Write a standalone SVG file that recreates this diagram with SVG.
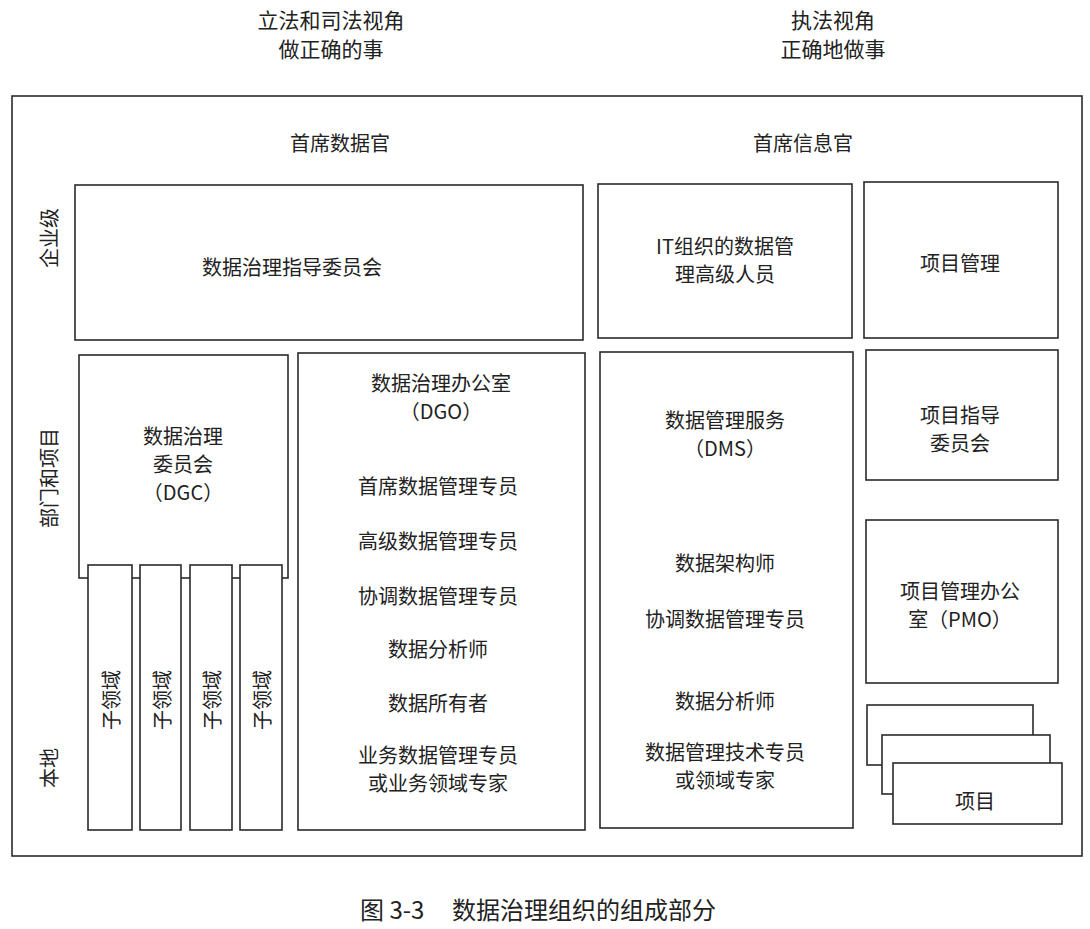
<svg xmlns="http://www.w3.org/2000/svg" width="1090" height="929" viewBox="0 0 1090 929">
<style>
.b{fill:#fff;stroke:#2a2a2a;stroke-width:1.6}
.t{font-family:"Noto Sans CJK SC","Noto Sans",sans-serif;font-size:20px;fill:#222;text-anchor:middle;dominant-baseline:central}
.h{font-size:21px}
.c{font-size:24px}
</style>
<rect width="1090" height="929" fill="#fff"/>
<g id="headers">
<text class="t h" x="331" y="19">立法和司法视角</text>
<text class="t h" x="331" y="48">做正确的事</text>
<text class="t h" x="833" y="19">执法视角</text>
<text class="t h" x="833" y="48">正确地做事</text>
</g>
<g id="outer"><rect class="b" x="12" y="96" width="1070" height="760"/></g>
<g id="roles">
<text class="t" x="340" y="142">首席数据官</text>
<text class="t" x="803" y="142">首席信息官</text>
</g>
<g id="levels">
<text class="t" transform="translate(48,238) rotate(-90)">企业级</text>
<text class="t" transform="translate(48,478) rotate(-90)">部门和项目</text>
<text class="t" transform="translate(48,768) rotate(-90)">本地</text>
</g>
<g id="steering">
<rect class="b" x="75" y="185" width="508" height="155"/>
<text class="t" x="292" y="266">数据治理指导委员会</text>
</g>
<g id="it-senior">
<rect class="b" x="598" y="184" width="254" height="154"/>
<text class="t" x="725" y="245">IT组织的数据管</text>
<text class="t" x="725" y="273">理高级人员</text>
</g>
<g id="pm">
<rect class="b" x="864" y="182" width="194" height="156"/>
<text class="t" x="960" y="262">项目管理</text>
</g>
<g id="dgc">
<rect class="b" x="79" y="355" width="209" height="223"/>
<text class="t" x="183" y="435">数据治理</text>
<text class="t" x="183" y="463">委员会</text>
<text class="t" x="183" y="491">（DGC）</text>
</g>
<g id="subdomains">
<rect class="b" x="88" y="565" width="44" height="265"/>
<rect class="b" x="140" y="565" width="41" height="265"/>
<rect class="b" x="190" y="565" width="42" height="265"/>
<rect class="b" x="240" y="565" width="42" height="265"/>
<text class="t" transform="translate(110,700) rotate(-90)">子领域</text>
<text class="t" transform="translate(161,700) rotate(-90)">子领域</text>
<text class="t" transform="translate(211,700) rotate(-90)">子领域</text>
<text class="t" transform="translate(261,700) rotate(-90)">子领域</text>
</g>
<g id="dgo">
<rect class="b" x="298" y="353" width="287" height="477"/>
<text class="t" x="441" y="382">数据治理办公室</text>
<text class="t" x="441" y="410">（DGO）</text>
<text class="t" x="438" y="485">首席数据管理专员</text>
<text class="t" x="438" y="540">高级数据管理专员</text>
<text class="t" x="438" y="595">协调数据管理专员</text>
<text class="t" x="438" y="648">数据分析师</text>
<text class="t" x="438" y="702">数据所有者</text>
<text class="t" x="438" y="754">业务数据管理专员</text>
<text class="t" x="438" y="782">或业务领域专家</text>
</g>
<g id="dms">
<rect class="b" x="600" y="352" width="253" height="476"/>
<text class="t" x="725" y="419">数据管理服务</text>
<text class="t" x="725" y="447">（DMS）</text>
<text class="t" x="725" y="562">数据架构师</text>
<text class="t" x="725" y="618">协调数据管理专员</text>
<text class="t" x="725" y="700">数据分析师</text>
<text class="t" x="725" y="751">数据管理技术专员</text>
<text class="t" x="725" y="779">或领域专家</text>
</g>
<g id="psc">
<rect class="b" x="866" y="350" width="192" height="130"/>
<text class="t" x="960" y="414">项目指导</text>
<text class="t" x="960" y="442">委员会</text>
</g>
<g id="pmo">
<rect class="b" x="866" y="520" width="192" height="163"/>
<text class="t" x="960" y="590">项目管理办公</text>
<text class="t" x="960" y="618">室（PMO）</text>
</g>
<g id="projects">
<rect class="b" x="867" y="705" width="166" height="60"/>
<rect class="b" x="882" y="735" width="168" height="59"/>
<rect class="b" x="893" y="763" width="169" height="61"/>
<text class="t" x="975" y="800">项目</text>
</g>
<g id="caption">
<text class="t c" x="360" y="908" style="text-anchor:start">图 3-3</text>
<text class="t c" x="452" y="908" style="text-anchor:start">数据治理组织的组成部分</text>
</g>
<g id="connectors"></g>
</svg>
